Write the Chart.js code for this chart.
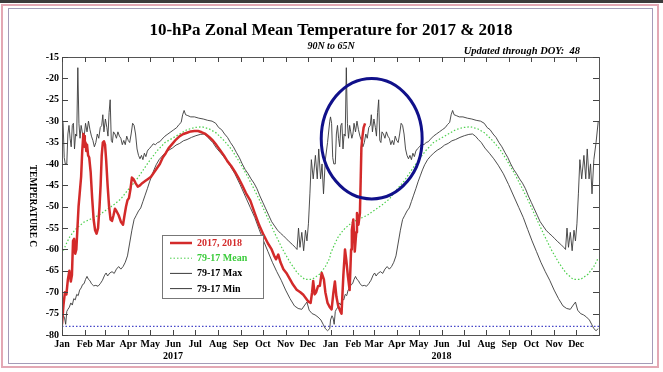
<!DOCTYPE html>
<html><head><meta charset="utf-8">
<script src="https://cdn.jsdelivr.net/npm/chart.js@4.4.1/dist/chart.umd.min.js"></script>
<style>html,body{margin:0;padding:0;background:#fff;overflow:hidden}#wrap{width:663px;height:372px;position:relative}</style>
</head><body><div id="wrap"><canvas id="c" width="663" height="372"></canvas></div>
<script>
// ---- data ----
const monthNames = ['Jan','Feb','Mar','Apr','May','Jun','Jul','Aug','Sep','Oct','Nov','Dec'];
const monthStartDoy = [0,31,59,90,120,151,181,212,243,273,304,334];
const yearLabels = ['2017','2018'];
const yearLabelMonth = [5];           // year printed under "Jun"
const yTickValues = [-15,-20,-25,-30,-35,-40,-45,-50,-55,-60,-65,-70,-75,-80];
const thresholdTemp = [-78];

// observed 2017-2018 (day counted from 1 Jan 2017)
const obsDay = [0,2,4,6,8,10,12,13.5,15,16.5,18,19.5,21,22.5,24,26,27.5,29,30,31,32,33,34,35.5,37,39,41,43,45,47,49,51,52.5,54,55.5,57,58.5,60,62,64,66,68,70,72,74,77,80,83,85,87,89,91,93,95,97,100,103,106,109,113,117,121,125,129,133,137,141,145,150,155,160,165,170,175,180,185,190,195,200,205,210,215,220,225,230,235,240,245,250,256,262,268,274,280,285,289,291,294,297,301,305,310,314,319,324,328,332,335,338,340,341.5,343.5,345.5,348,350.5,353,356,358,361,364,366.5,369,371,373,375.5,378,380,382.5,384.7,386.5,388.5,391,393,394,396,398,400,401,403,405,406,407,408.5,410,412];
const obsTemp = [-77.5,-73,-70,-70.5,-67,-65,-67.5,-66,-58,-57.5,-61,-60,-55,-50,-47,-43,-37,-33,-33.5,-36,-35,-37,-35.5,-38,-38.5,-42,-48,-53,-55.5,-56.3,-55,-50,-45,-38,-35,-34.7,-35.5,-39,-45,-50,-53,-53.3,-52,-50.5,-51,-52,-53.5,-54.2,-52,-50,-48.5,-48,-46,-43.2,-43.5,-44.5,-45.3,-45,-44.5,-44,-43.5,-43,-42,-41,-40,-38.5,-37.5,-36.3,-35.3,-34.3,-33.5,-33,-32.7,-32.4,-32.3,-32.3,-32.6,-33,-33.7,-34.5,-35.6,-36.8,-38,-39.4,-40.5,-41.8,-43.3,-45,-46.8,-48.6,-51.5,-54.3,-56.6,-58.6,-60,-61.7,-62.3,-61.2,-63,-64.6,-65.5,-67,-68.2,-69.4,-70,-70.6,-71.5,-72.2,-72.5,-70,-67.4,-70.5,-70,-68.6,-68.5,-65.5,-67,-70,-72.5,-73.5,-74,-70,-67.5,-71,-73.2,-74.3,-75,-66,-60,-62.5,-66,-69.5,-60,-55.5,-53,-60.5,-56,-51.5,-54.2,-51.5,-44,-36.2,-33.5,-31.5,-30.5];

// 1979-2017 climatology (day of year)
const maxDoy = [0,1.5,3,4.5,6.5,8,9.5,11,12.5,14,15.5,17,18.5,20,21.5,23,24.5,26,27.5,29,30.5,32,34,36,38,40,42,44,46,48,50,52,54,55.5,57,59,61,62.5,64,65.5,67,68.5,70,72,74,76,78,80,82,84,86,88,90,92,94,96,98,100,102,104,106,108,110,112,114,116,118,121,124,127,130,133,136,140,144,148,152,156,159,162,164,166,168,171,175,180,186,192,198,204,209,213,217,221,225,229,233,237,241,245,249,253,257,261,265,269,273,277,281,285,289,293,297,301,305,309,313,317,319.5,321.5,323.5,326,328.5,331,333,335,337,339,341.5,344.5,347,349,351.5,353.5,355.5,358,361,364];
const maxTemp = [-29,-30.5,-38.5,-40,-40,-33,-31,-34,-36,-31,-30.5,-36.5,-33,-33.5,-17.5,-30.5,-34,-31,-32.5,-34,-33,-30.5,-32.5,-30,-32,-33.5,-34.5,-36,-35,-33,-34,-31.5,-31,-28.5,-32.5,-29.5,-31.5,-33.5,-28,-25,-34.5,-35,-32.5,-33,-34,-32.5,-33.5,-34,-35.5,-34.5,-35.5,-33.5,-34.5,-35,-33,-30.5,-31,-33,-36.5,-38,-38.8,-38,-39,-37.5,-38.3,-37,-36.5,-36,-35.3,-35.5,-35,-34.8,-34.2,-33.5,-33,-32.5,-32,-31.5,-30.8,-30.3,-28.5,-27.5,-28.5,-28.7,-29,-29,-29.3,-29.5,-29.8,-30,-30.5,-31.5,-32,-33,-33.8,-35,-36,-37.3,-38.5,-40,-41.3,-42.3,-43.5,-44.5,-45.8,-47.5,-49,-50.5,-52,-53.5,-54.5,-55.5,-56.2,-56.8,-57.5,-58.2,-58.8,-59.5,-60,-55,-59.5,-56,-60.3,-55.5,-58,-54,-47,-39,-43.5,-38,-43.5,-36.5,-43.5,-40,-47,-39,-35,-30];
const minDoy = [0,2,3.5,5,6.5,8,10,12,14,16,18,20,22,24,26,28,30,32,34,36,38,40,43,46,49,52,55,58,60,62,65,68,71,74,77,80,83,86,89,92,95,98,101,104,107,110,113,116,119,122,125,128,132,136,140,145,150,155,160,165,170,176,182,188,193,197,201,205,210,216,222,228,235,242,249,256,262,268,274,280,286,292,298,304,310,316,321,326,330,333,336,340,344,348,352,355,358,361,364];
const minTemp = [-76.5,-75.5,-76,-77.5,-74.5,-74,-73.5,-72.5,-73,-71.5,-71.8,-70.5,-70.8,-69.5,-69,-68.2,-68,-67,-66.3,-67,-67.3,-68,-68.5,-68.4,-68.6,-68,-67.2,-66,-65.5,-66.2,-65.5,-65.2,-65.6,-64.6,-64,-64.6,-64,-63,-61.5,-58.5,-55.5,-53,-52,-51,-50.3,-48.8,-47.3,-45.8,-44.2,-42.8,-41.4,-40.2,-39,-38.2,-37.5,-36.8,-36.3,-35.6,-35.2,-34.6,-34.3,-33.8,-33.4,-33.1,-33,-33.5,-34.3,-35,-36.3,-37.5,-38.8,-40.3,-42.3,-44.8,-47.5,-50.2,-52.5,-55.3,-58,-60.5,-63,-65.2,-67.2,-69.5,-71.5,-73.2,-73.8,-74,-73,-72.3,-74.2,-75,-75.3,-75.8,-76.5,-77.5,-78.5,-79,-78.5];
const meanDoy = [0,5,10,15,20,25,30,40,50,60,70,80,90,100,110,120,130,140,150,160,170,180,190,200,210,220,230,240,250,260,270,280,290,300,310,320,330,340,350,358,364];
const meanTemp = [-61,-59,-57.2,-56,-55,-54.3,-53.6,-52.8,-52,-50.8,-49.6,-48.2,-46,-44,-41.5,-39,-36.8,-35,-34,-33,-32,-31.5,-31.3,-31.8,-32.8,-34.5,-36.5,-39.2,-42.2,-45.5,-49,-52.8,-56.5,-60,-63,-65.5,-67,-67,-65.8,-64,-62];

// annotation ellipse (centre day, centre temp; radius in days, in degrees)
const circleCenter = [421, -34.1];
const circleRadius = [68.6, 14.1];

// ---- helpers ----
const DAYS_PER_YEAR = 365;
function pts(days, temps){ return days.map((d,i)=>({x:d, y:temps[i]})); }
function twoYears(days, temps){
  const out = [];
  for (let y=0; y<2; y++) days.forEach((d,i)=>out.push({x:d+y*DAYS_PER_YEAR, y:temps[i]}));
  return out;
}
const tickDays = [];
const tickLabels = [];
for (let y=0; y<2; y++) monthStartDoy.forEach((d,m)=>{
  tickDays.push(d + y*DAYS_PER_YEAR);
  tickLabels.push(yearLabelMonth.includes(m) ? [monthNames[m], yearLabels[y]] : monthNames[m]);
});

const SERIF = '"Liberation Serif", "Times New Roman", serif';
const RED = '#d32a2a', GREEN = '#4ccf4c', DARK = '#3a3a3a';

const decor = {
  id: 'decor',
  beforeDraw(chart){
    const c = chart.ctx;
    c.save();
    c.fillStyle = '#fff'; c.fillRect(0,0,chart.width,chart.height);
    // page frame
    c.fillStyle = '#3b3b3b'; c.fillRect(0,0,663,3);
    c.strokeStyle = '#e3a8b4'; c.lineWidth = 2; c.strokeRect(2,5,656,362);
    c.strokeStyle = '#a49cb8'; c.lineWidth = 1; c.strokeRect(8.5,8.5,644,355);
    c.restore();
  },
  afterDatasetsDraw(chart){
    const c = chart.ctx, a = chart.chartArea;
    const xs = chart.scales.x, ys = chart.scales.y;
    c.save();
    // annotation ellipse
    c.strokeStyle = '#10108a'; c.lineWidth = 3;
    const cx = xs.getPixelForValue(circleCenter[0]), cy = ys.getPixelForValue(circleCenter[1]);
    const rx = xs.getPixelForValue(circleCenter[0]+circleRadius[0]) - cx;
    const ry = cy - ys.getPixelForValue(circleCenter[1]+circleRadius[1]);
    c.beginPath(); c.ellipse(cx, cy, rx, ry, 0, 0, Math.PI*2); c.stroke();
    // plot frame
    c.strokeStyle = '#555'; c.lineWidth = 1;
    c.strokeRect(Math.round(a.left)+0.5, Math.round(a.top)+0.5, Math.round(a.right-a.left), Math.round(a.bottom-a.top));
    // inward ticks
    c.strokeStyle = '#444'; c.beginPath();
    yTickValues.forEach(v=>{
      const y = Math.round(ys.getPixelForValue(v))+0.5;
      c.moveTo(a.left, y); c.lineTo(a.left+6, y);
      c.moveTo(a.right, y); c.lineTo(a.right-6, y);
    });
    tickDays.forEach(d=>{
      const x = Math.round(xs.getPixelForValue(d))+0.5;
      c.moveTo(x, a.bottom); c.lineTo(x, a.bottom-5);
      c.moveTo(x, a.top); c.lineTo(x, a.top+5);
    });
    c.stroke();
    // legend box
    const lx = 162.5, ly = 235.5, lw = 101, lh = 63;
    c.fillStyle = '#fff'; c.fillRect(lx, ly, lw, lh);
    c.strokeStyle = '#777'; c.lineWidth = 1; c.strokeRect(lx, ly, lw, lh);
    const ds = chart.data.datasets.slice(0,4);
    ds.forEach((d,i)=>{
      const y = 243 + i*15.2;
      c.save();
      c.strokeStyle = d.borderColor; c.lineWidth = i===0 ? 2.5 : 1;
      c.setLineDash(d.borderDash || []);
      c.beginPath(); c.moveTo(170, y); c.lineTo(192, y); c.stroke();
      c.restore();
      c.fillStyle = d.legendTextColor; c.font = 'bold 10px ' + SERIF;
      c.textBaseline = 'middle'; c.textAlign = 'left';
      c.fillText(d.label, 197, y+0.5);
    });
    // titles
    c.fillStyle = '#000'; c.textAlign = 'center'; c.textBaseline = 'alphabetic';
    c.font = 'bold 17px ' + SERIF;
    c.fillText('10-hPa Zonal Mean Temperature for 2017 & 2018', 331, 35);
    c.font = 'italic bold 10px ' + SERIF;
    c.fillText('90N to 65N', 331, 49);
    c.textAlign = 'right'; c.font = 'italic bold 10.5px ' + SERIF;
    c.fillText('Updated through DOY:  48', 580, 54);
    // y axis title
    c.save();
    c.translate(32, 206); c.rotate(Math.PI/2);
    c.textAlign = 'center'; c.textBaseline = 'middle';
    c.font = 'bold 9.5px ' + SERIF;
    c.fillText('TEMPERATURE C', 0, 0);
    c.restore();
    c.restore();
  }
};

new Chart(document.getElementById('c'), {
  type: 'line',
  data: {
    datasets: [
      { label:'2017, 2018', data: pts(obsDay, obsTemp), borderColor: RED, borderWidth: 2.5, legendTextColor: RED, order: 0 },
      { label:'79-17 Mean', data: twoYears(meanDoy, meanTemp), borderColor: GREEN, borderWidth: 1.2, borderDash:[1.5,2], legendTextColor: '#3ccc3c', order: 3 },
      { label:'79-17 Max', data: twoYears(maxDoy, maxTemp), borderColor: DARK, borderWidth: 0.9, legendTextColor: '#000', order: 2 },
      { label:'79-17 Min', data: twoYears(minDoy, minTemp), borderColor: DARK, borderWidth: 0.9, legendTextColor: '#000', order: 2 },
      { label:'threshold', data: [{x:0,y:thresholdTemp[0]},{x:730,y:thresholdTemp[0]}], borderColor:'#4646c8', borderWidth:1.2, borderDash:[1.5,2], order: 4 }
    ]
  },
  options: {
    responsive: false, animation: false, devicePixelRatio: 1,
    elements: { point: { radius: 0 }, line: { tension: 0, borderJoinStyle: 'round' } },
    layout: { padding: { left: 0, right: 64, top: 57, bottom: 0 } },
    plugins: { legend: { display: false }, tooltip: { enabled: false }, title: { display: false } },
    scales: {
      x: {
        type: 'linear', min: 0, max: 730,
        grid: { display: false, drawTicks: false }, border: { display: false },
        afterBuildTicks(scale){ scale.ticks = tickDays.map(v=>({value:v})); },
        afterFit(scale){ scale.height = 37; },
        ticks: {
          autoSkip: false, maxRotation: 0, minRotation: 0, padding: 3,
          color: '#000', font: { family: SERIF, weight: 'bold', size: 10, lineHeight: 1.2 },
          callback(value){ const i = tickDays.indexOf(value); return i >= 0 ? tickLabels[i] : ''; }
        }
      },
      y: {
        type: 'linear', min: -80, max: -15,
        grid: { display: false, drawTicks: false }, border: { display: false },
        afterBuildTicks(scale){ scale.ticks = yTickValues.map(v=>({value:v})); },
        afterFit(scale){ scale.width = 62; },
        ticks: { padding: 3, color: '#000', font: { family: SERIF, weight: 'bold', size: 10 },
          callback(v){ return String(v); } }
      }
    }
  },
  plugins: [decor]
});
</script></body></html>
